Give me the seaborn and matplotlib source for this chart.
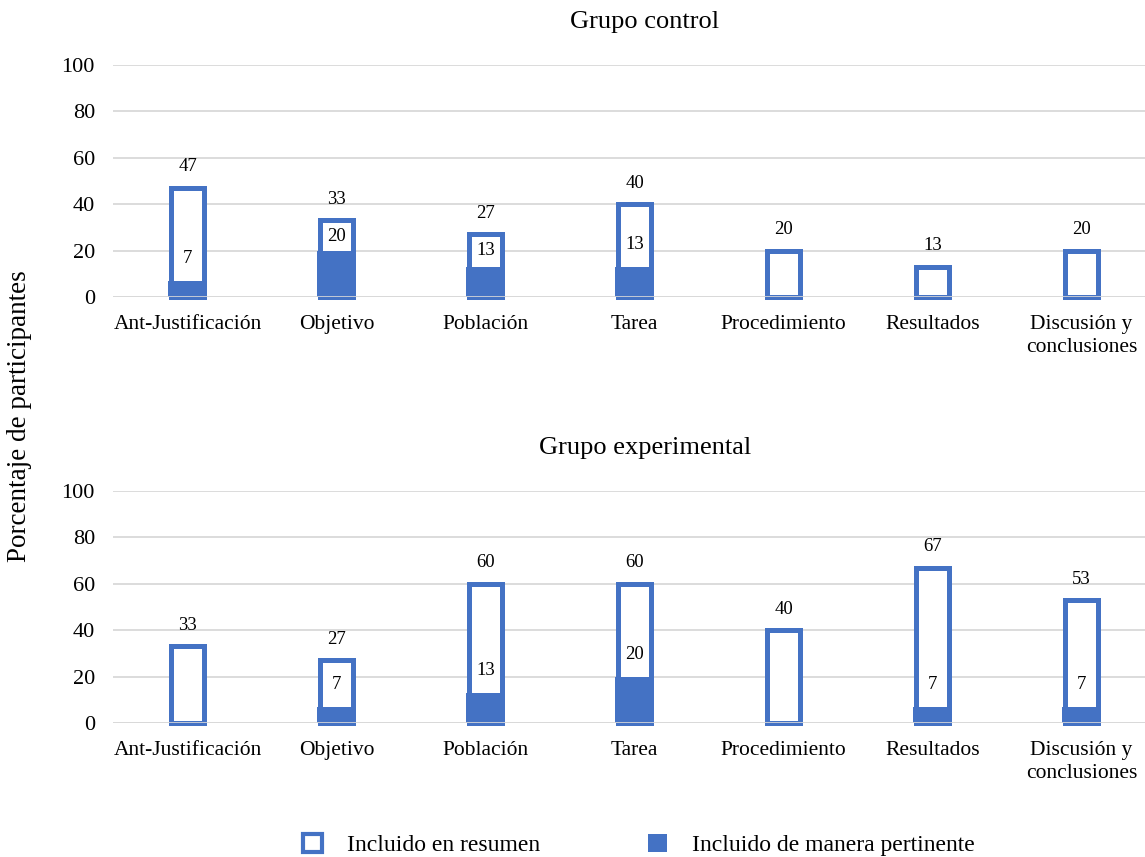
import matplotlib
matplotlib.use("Agg")
import matplotlib.pyplot as plt
from matplotlib.patches import Patch
import seaborn as sns

# Section names of the abstract
categorias = ["Ant-Justificación", "Objetivo", "Población", "Tarea",
              "Procedimiento", "Resultados", "Discusión y\nconclusiones"]

# Percentage of participants per group
control_resumen = [47, 33, 27, 40, 20, 13, 20]
control_pertinente = [7, 20, 13, 13, 0, 0, 0]
experimental_resumen = [33, 27, 60, 60, 40, 67, 53]
experimental_pertinente = [0, 7, 13, 20, 0, 7, 7]

titulos = ["Grupo control", "Grupo experimental"]
serie_resumen = "Incluido en resumen"
serie_pertinente = "Incluido de manera pertinente"
eje_y = "Porcentaje de participantes"
ticks_y = [0, 20, 40, 60, 80, 100]

AZUL = "#4472C4"
GRIS = "#D9D9D9"
NEGRO = "#000000"

sns.set_theme(style="white")
plt.rcParams["font.family"] = ["Liberation Serif", "DejaVu Serif"]
plt.rcParams["text.color"] = NEGRO
plt.rcParams["xtick.color"] = NEGRO
plt.rcParams["ytick.color"] = NEGRO

fig = plt.figure(figsize=(11.45, 8.57), dpi=100)
W, H = 1145, 857
left = 113 / W
width = (1145 - 113) / W
ax_top = fig.add_axes([left, (H - 297) / H, width, (297 - 65) / H])
ax_bot = fig.add_axes([left, (H - 723) / H, width, (723 - 491) / H])


def dibujar(ax, resumen, pertinente):
    sns.barplot(x=categorias, y=resumen, ax=ax, color="white",
                edgecolor=AZUL, linewidth=3.6, width=0.222,
                saturation=1, zorder=3)
    sns.barplot(x=categorias, y=pertinente, ax=ax, color=AZUL,
                linewidth=0, width=0.256, saturation=1, zorder=4)
    for p in ax.patches:
        p.set_clip_on(False)
    ax.set_ylim(0, 100)
    ax.set_xlim(-0.5, 6.426)
    ax.set_yticks(ticks_y)
    ax.set_yticklabels([str(t) for t in ticks_y], fontsize=16)
    ax.yaxis.grid(True, color=GRIS, linewidth=1.3, zorder=0)
    ax.set_axisbelow(True)
    ax.axhline(0, color=GRIS, linewidth=1.2, zorder=6)
    for s in ax.spines.values():
        s.set_visible(False)
    ax.tick_params(axis="y", length=0, pad=13, labelcolor=NEGRO)
    ax.tick_params(axis="x", length=0, pad=13, labelsize=15.5,
                   labelcolor=NEGRO)
    for t in ax.get_xticklabels():
        t.set_linespacing(1.3)
    ax.set_xlabel("")
    ax.set_ylabel("")
    for i, (v1, v2) in enumerate(zip(resumen, pertinente)):
        ax.annotate(str(v1), (i, v1), xytext=(0, 9),
                    textcoords="offset points", ha="center", va="bottom",
                    fontsize=13.5, color=NEGRO, zorder=7,
                    annotation_clip=False)
        if v2 > 0:
            y = min(v2 + 9.5, v1 - 7)
            ax.text(i, y, str(v2), ha="center", va="center", fontsize=13.5,
                    color=NEGRO, zorder=7,
                    bbox=dict(boxstyle="square,pad=0.15", fc="white",
                              ec="none"))


dibujar(ax_top, control_resumen, control_pertinente)
dibujar(ax_bot, experimental_resumen, experimental_pertinente)

fig.text(645 / W, 1 - 22 / H, titulos[0], ha="center", va="center",
         fontsize=19, color=NEGRO)
fig.text(645 / W, 1 - 448 / H, titulos[1], ha="center", va="center",
         fontsize=19, color=NEGRO)
fig.text(20 / W, 1 - 416 / H, eje_y, rotation=90, ha="center",
         va="center", fontsize=19.5, color=NEGRO)

handles = [
    Patch(facecolor="white", edgecolor=AZUL, linewidth=3, label=serie_resumen),
    Patch(facecolor=AZUL, edgecolor=AZUL, linewidth=0, label=serie_pertinente),
]
fig.legend(handles=handles, loc="center", bbox_to_anchor=(639 / W, 1 - 845 / H),
           ncol=2, frameon=False, fontsize=17, handlelength=0.8,
           handleheight=0.8, handletextpad=1.05, columnspacing=4.6,
           labelcolor=NEGRO)

fig.savefig("out.png", dpi=100)
